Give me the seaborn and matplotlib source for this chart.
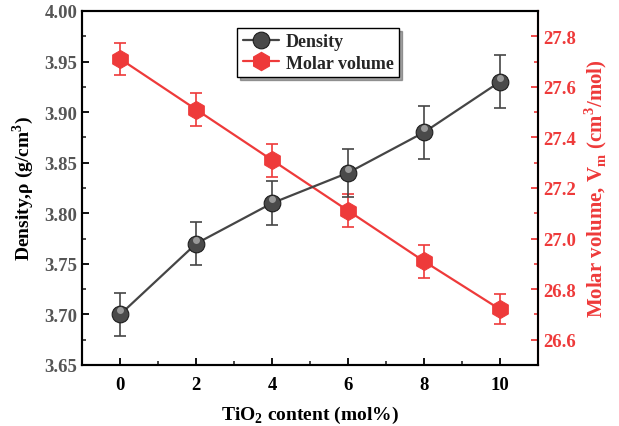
import matplotlib
matplotlib.use("Agg")
import matplotlib.pyplot as plt
import seaborn as sns
import pandas as pd
from matplotlib.ticker import MultipleLocator

sns.set_theme(style="ticks")
plt.rcParams['font.family'] = ['Liberation Serif', 'DejaVu Serif']
plt.rcParams['font.weight'] = 'bold'
plt.rcParams['mathtext.fontset'] = 'custom'
plt.rcParams['mathtext.rm'] = 'Liberation Serif:bold'
plt.rcParams['mathtext.bf'] = 'Liberation Serif:bold'

tio2 = [0, 2, 4, 6, 8, 10]
density = [3.70, 3.77, 3.81, 3.84, 3.88, 3.93]
density_err = [0.021, 0.021, 0.022, 0.024, 0.026, 0.026]
molar_volume = [27.71, 27.51, 27.31, 27.11, 26.91, 26.72]
molar_err = [0.065, 0.065, 0.065, 0.065, 0.065, 0.06]

df = pd.DataFrame({"x": tio2, "density": density, "mv": molar_volume})

gray = "#454545"
red = "#ee3a3a"

fig, ax = plt.subplots(figsize=(6.19, 4.27), dpi=100)
fig.subplots_adjust(left=0.133, right=0.869, top=0.972, bottom=0.143)
ax2 = ax.twinx()

ax.errorbar(tio2, density, yerr=density_err, fmt='none', ecolor=gray, elinewidth=1.2, capsize=4, capthick=1.2, zorder=2)
sns.lineplot(data=df, x="x", y="density", ax=ax, color=gray, lw=1.6, marker='o', markersize=12,
             markerfacecolor="#4a4a4a", markeredgecolor="#1e1e1e", markeredgewidth=0.8, label="Density", legend=False, zorder=3)
ax.plot(tio2, [d + 0.004 for d in density], linestyle='none', marker='o', markersize=5,
        markerfacecolor="#a8a8a8", markeredgewidth=0, zorder=4, alpha=0.85)
ax.plot([], [], color=red, lw=1.6, marker='h', markersize=13, markerfacecolor=red, markeredgecolor=red, label="Molar volume")

ax2.errorbar(tio2, molar_volume, yerr=molar_err, fmt='none', ecolor=red, elinewidth=1.2, capsize=4, capthick=1.2, zorder=2)
sns.lineplot(data=df, x="x", y="mv", ax=ax2, color=red, lw=1.6, marker='h', markersize=13,
             markerfacecolor=red, markeredgecolor=red, legend=False, zorder=3)

ax.set_xlim(-1, 11)
ax.set_ylim(3.65, 4.00)
ax2.set_ylim(26.5, 27.9)
ax.set_xticks(tio2)
ax.xaxis.set_minor_locator(MultipleLocator(1))
ax.yaxis.set_major_locator(MultipleLocator(0.05))
ax.yaxis.set_minor_locator(MultipleLocator(0.025))
ax2.yaxis.set_minor_locator(MultipleLocator(0.1))
ax2.set_yticks([26.6, 26.8, 27.0, 27.2, 27.4, 27.6, 27.8])

ax.set_xlabel(r"TiO$_2$ content (mol%)", fontsize=14, fontweight='bold', color='black', labelpad=8)
ax.set_ylabel(r"Density,ρ (g/cm$^3$)", fontsize=14, fontweight='bold', color='black', labelpad=6)
ax2.set_ylabel(r"Molar volume, V$_\mathrm{m}$ (cm$^3$/mol)", fontsize=15, fontweight='bold', color=red, labelpad=5)

for a in (ax, ax2):
    for s in a.spines.values():
        s.set_linewidth(1.5)
        s.set_color('black')
ax2.spines['right'].set_color(red)

ax.tick_params(axis='both', which='major', direction='in', length=5, width=1.3, labelsize=13.5, colors='black')
ax.tick_params(axis='both', which='minor', direction='in', length=3, width=1.2)
ax.tick_params(axis='x', pad=8)
ax.tick_params(axis='y', labelcolor='#555555')
ax.tick_params(axis='y', which='both', right=False)
ax2.tick_params(axis='y', which='major', direction='in', length=5, width=1.3, labelsize=13.5, colors=red)
ax2.tick_params(axis='y', which='minor', direction='in', length=3, width=1.2, colors=red)
for lab in ax.get_xticklabels() + ax.get_yticklabels() + ax2.get_yticklabels():
    lab.set_fontweight('bold')

leg = ax.legend(loc='upper left', bbox_to_anchor=(0.32, 0.978), frameon=True, fancybox=False, shadow=True,
                prop={'weight': 'bold', 'size': 13}, handlelength=2.0, borderpad=0.3, labelspacing=0.25,
                handletextpad=0.4)
leg.get_frame().set_edgecolor('black')
leg.get_frame().set_linewidth(1.0)
ax.set_zorder(ax2.get_zorder() + 1)
ax.patch.set_visible(False)

fig.savefig("out.png", dpi=100)
